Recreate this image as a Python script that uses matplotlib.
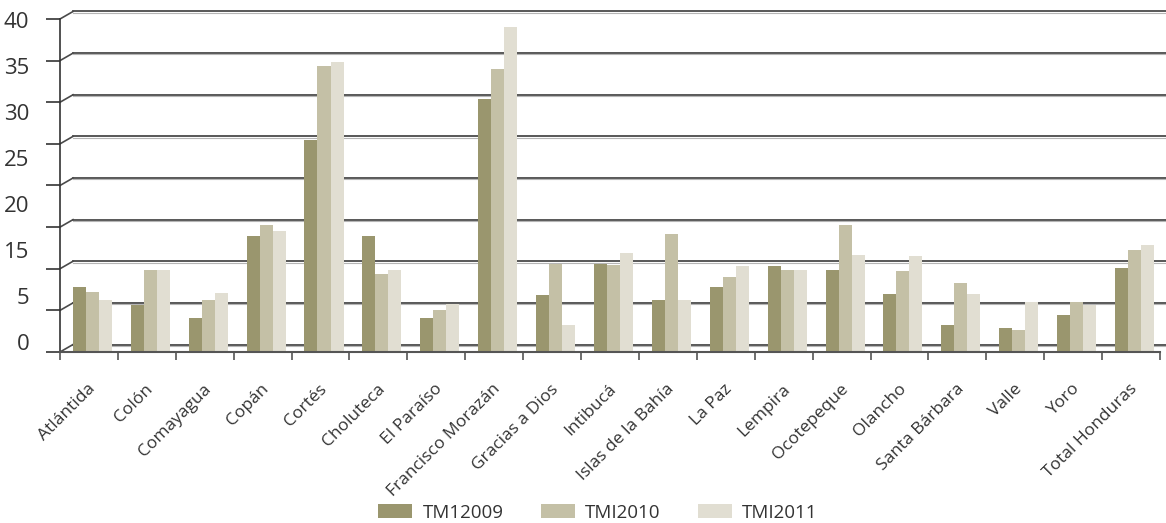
import matplotlib.pyplot as plt
import numpy as np

plt.rcParams['font.family'] = ['Open Sans', 'DejaVu Sans']

departamentos = ["Atlántida", "Colón", "Comayagua", "Copán", "Cortés", "Choluteca",
                 "El Paraíso", "Francisco Morazán", "Gracias a Dios", "Intibucá",
                 "Islas de la Bahía", "La Paz", "Lempira", "Ocotepeque", "Olancho",
                 "Santa Bárbara", "Valle", "Yoro", "Total Honduras"]
tmi2009 = [7.8, 5.7, 4.1, 13.9, 25.5, 13.9, 4.1, 30.4, 6.8, 10.6,
           6.3, 7.8, 10.3, 9.9, 7.0, 3.3, 2.9, 4.4, 10.1]
tmi2010 = [7.2, 9.8, 6.3, 15.3, 34.3, 9.4, 5.1, 34.0, 10.6, 10.4,
           14.2, 9.0, 9.9, 15.2, 9.7, 8.3, 2.7, 6.0, 12.3]
tmi2011 = [6.2, 9.9, 7.1, 14.5, 34.8, 9.9, 5.8, 39.0, 3.2, 11.9,
           6.3, 10.3, 9.9, 11.6, 11.5, 7.0, 6.0, 5.6, 12.8]
series_names = ["TM12009", "TMI2010", "TMI2011"]
colores = ["#9a966e", "#c4c0a6", "#e1ded2"]
ytick_labels = ["0", "5", "15", "20", "25", "30", "35", "40"]

fig = plt.figure(figsize=(11.66, 5.23), dpi=100)
ax = fig.add_axes([60/1166, 171/523, 1106/1166, 345.5/523])

x = np.arange(len(departamentos))
w = 0.225
shift = 0.06
for i, (vals, name, c) in enumerate(zip([tmi2009, tmi2010, tmi2011], series_names, colores)):
    ax.bar(x + shift + (i - 1) * w, vals, width=w, color=c, label=name, zorder=3)

# pseudo 3D gridlines (back wall a bit higher and to the right)
d = 0.9
x0 = -0.5
xb = -0.275
xend = len(departamentos) - 0.5 + 6/57.8
for v in range(0, 45, 5):
    ax.plot([x0, xb], [v, v + d], color="#4a4a4a", lw=1.2, zorder=2, clip_on=False)
    ax.plot([xb, xend], [v + d, v + d], color="#4a4a4a", lw=1.3, zorder=2, clip_on=False)
    ax.plot([xb, xend], [v + d - 0.15, v + d - 0.15], color="#b5b5b5", lw=0.8, zorder=2, clip_on=False)

ax.set_xlim(x0, xend)
ax.set_ylim(0, 41.5)

for s in ["top", "right"]:
    ax.spines[s].set_visible(False)
ax.spines["left"].set_bounds(0, 40)
ax.spines["bottom"].set_bounds(-0.5, len(departamentos) - 0.5)
ax.spines["left"].set_color("#333333")
ax.spines["bottom"].set_color("#555555")
ax.spines["left"].set_linewidth(1.2)
ax.spines["bottom"].set_linewidth(1.5)
ax.spines["bottom"].set_zorder(4)

# x ticks at category edges, labels at centers
ax.set_xticks(np.arange(-0.5, len(departamentos), 1.0))
ax.set_xticklabels([])
ax.tick_params(axis="x", which="major", length=6, width=1.2, color="#555555")
ax.set_xticks(x + 0.07, minor=True)
ax.set_xticklabels(departamentos, minor=True, rotation=45, ha="right",
                   va="center", rotation_mode="anchor", fontsize=12.5, color="#333333")
ax.tick_params(axis="x", which="minor", length=0, pad=25)

# y ticks: marks every 5, labels as printed in the original
ax.set_yticks(np.arange(0, 45, 5), minor=True)
ax.tick_params(axis="y", which="minor", length=10, width=1.2, color="#333333")
ax.set_yticks(np.linspace(1.2, 39.9, len(ytick_labels)))
ax.set_yticklabels(ytick_labels, fontsize=16, color="#333333")
ax.tick_params(axis="y", which="major", length=0, pad=22)

fig.legend(loc="lower center", bbox_to_anchor=(598/1166, -0.03), ncol=3, frameon=False,
           fontsize=13.5, handlelength=1.8, handleheight=0.75, handletextpad=0.55,
           columnspacing=2.0, labelcolor="#333333")

fig.savefig("out.png", dpi=100)
